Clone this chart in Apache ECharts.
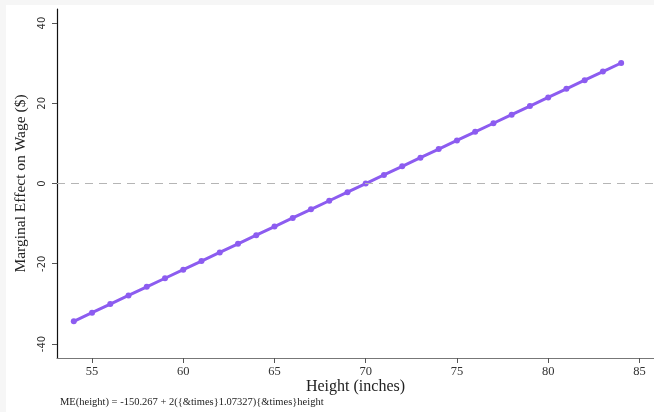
<!DOCTYPE html>
<html><head><meta charset="utf-8">
<script src="https://cdn.jsdelivr.net/npm/echarts@6/dist/echarts.min.js"></script>
<style>
html,body{margin:0;padding:0;background:#f6f6f6;}
#c{position:absolute;left:6px;top:5px;width:648px;height:407px;background:#fff;}
</style></head>
<body><div id="c"></div>
<script>
const heights = [54,55,56,57,58,59,60,61,62,63,64,65,66,67,68,69,70,71,72,73,74,75,76,77,78,79,80,81,82,83,84];
const marginalEffect = [-34.354,-32.207,-30.061,-27.914,-25.768,-23.621,-21.475,-19.328,-17.182,-15.035,-12.888,-10.742,-8.595,-6.449,-4.302,-2.156,-0.009,2.137,4.284,6.430,8.577,10.724,12.870,15.017,17.163,19.310,21.456,23.603,25.749,27.896,30.042];
const xTicks = [55,60,65,70,75,80,85];
const yTicks = [-40,-20,0,20,40];
const xTitle = 'Height (inches)';
const yTitle = 'Marginal Effect on Wage ($)';
const caption = 'ME(height) = -150.267 + 2({&times}1.07327){&times}height';

const chart = echarts.init(document.getElementById('c'));
const serif = '"Liberation Serif", "DejaVu Serif", serif';
chart.setOption({
  animation:false,
  backgroundColor:'#fff',
  grid:{left:51,top:4,right:0,bottom:54,containLabel:false,outerBoundsMode:'none'},
  xAxis:{
    type:'value',min:53.08,max:85.8,
    axisLine:{show:true,onZero:false,lineStyle:{color:'#777',width:1.2}},
    axisTick:{show:true,length:5,lineStyle:{color:'#555'},customValues:xTicks},
    axisLabel:{fontFamily:serif,fontSize:12.5,color:'#333',margin:7,customValues:xTicks},
    splitLine:{show:false},
    name:xTitle,nameLocation:'middle',nameGap:21,nameMoveOverlap:false,
    nameTextStyle:{fontFamily:serif,fontSize:16,color:'#222'}
  },
  yAxis:{
    type:'value',min:-43.5,max:43.5,
    axisLine:{show:true,onZero:false,lineStyle:{color:'#111',width:1.2}},
    axisTick:{show:true,length:5,lineStyle:{color:'#555'},customValues:yTicks},
    axisLabel:{fontFamily:'"DejaVu Sans", sans-serif',fontSize:10,color:'#333',rotate:90,margin:10,customValues:yTicks},
    splitLine:{show:false},
    name:yTitle,nameLocation:'middle',nameGap:27,
    nameTextStyle:{fontFamily:serif,fontSize:15.5,color:'#222'}
  },
  graphic:[{type:'text',left:54,top:392,style:{text:caption,font:'10.5px '+serif,fill:'#222'}}],
  series:[{
    type:'line',
    data:heights.map((h,i)=>[h,marginalEffect[i]]),
    symbol:'circle',symbolSize:6,
    lineStyle:{color:'#8c5cf0',width:3},
    itemStyle:{color:'#8c5cf0'},
    markLine:{
      silent:true,symbol:['none','none'],label:{show:false},
      lineStyle:{color:'#b5b5b5',type:[8,6],width:1.2},
      data:[{yAxis:0}]
    }
  }]
});
</script></body></html>
